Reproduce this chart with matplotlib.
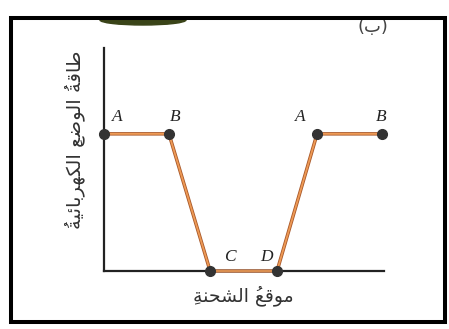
import matplotlib
matplotlib.use("Agg")
import matplotlib.pyplot as plt
from matplotlib.patches import Rectangle, Ellipse

# --- data ---
point_labels = ["A", "B", "C", "D", "A", "B"]
positions = [0.0, 2.32, 3.79, 6.18, 7.61, 9.93]
energy = [6.15, 6.15, 0.0, 0.0, 6.15, 6.15]

ylabel_text = "طاقةُ الوضعِ الكهربائيةُ"
xlabel_text = "موقعُ الشحنةِ"
panel_text = "(ب)"

# -----------------------------------
# small Arabic shaper (matplotlib has no bidi / shaping)
# -----------------------------------
# isolated, final, initial, medial
FORMS = {
    "ا": (0xFE8D, 0xFE8E, None, None),
    "ب": (0xFE8F, 0xFE90, 0xFE91, 0xFE92),
    "ة": (0xFE93, 0xFE94, None, None),
    "ح": (0xFEA1, 0xFEA2, 0xFEA3, 0xFEA4),
    "ر": (0xFEAD, 0xFEAE, None, None),
    "ش": (0xFEB5, 0xFEB6, 0xFEB7, 0xFEB8),
    "ض": (0xFEBD, 0xFEBE, 0xFEBF, 0xFEC0),
    "ط": (0xFEC1, 0xFEC2, 0xFEC3, 0xFEC4),
    "ع": (0xFEC9, 0xFECA, 0xFECB, 0xFECC),
    "ق": (0xFED5, 0xFED6, 0xFED7, 0xFED8),
    "ك": (0xFED9, 0xFEDA, 0xFEDB, 0xFEDC),
    "ل": (0xFEDD, 0xFEDE, 0xFEDF, 0xFEE0),
    "م": (0xFEE1, 0xFEE2, 0xFEE3, 0xFEE4),
    "ن": (0xFEE5, 0xFEE6, 0xFEE7, 0xFEE8),
    "ه": (0xFEE9, 0xFEEA, 0xFEEB, 0xFEEC),
    "و": (0xFEED, 0xFEEE, None, None),
    "ي": (0xFEF1, 0xFEF2, 0xFEF3, 0xFEF4),
    "ئ": (0xFE89, 0xFE8A, 0xFE8B, 0xFE8C),
}
MARKS = "\u064b\u064c\u064d\u064e\u064f\u0650\u0651\u0652"
MIRROR = {"(": ")", ")": "("}


def shape(text):
    # clusters = base letter + its marks
    clusters = []
    for ch in text:
        if ch in MARKS and clusters:
            clusters[-1][1].append(ch)
        else:
            clusters.append([ch, []])
    out = []
    for i, (ch, marks) in enumerate(clusters):
        if ch not in FORMS:
            out.append([MIRROR.get(ch, ch), marks])
            continue
        prev = clusters[i - 1][0] if i > 0 else None
        nxt = clusters[i + 1][0] if i + 1 < len(clusters) else None
        join_prev = prev in FORMS and FORMS[prev][2] is not None
        join_next = nxt in FORMS and FORMS[ch][2] is not None
        iso, fin, ini, med = FORMS[ch]
        if join_prev and join_next:
            code = med
        elif join_prev:
            code = fin
        elif join_next:
            code = ini
        else:
            code = iso
        out.append([chr(code), marks])
    # visual order: reverse everything (mark ends up just before its base)
    return "".join("".join(m) + c for c, m in reversed(out))


fig = plt.figure(figsize=(4.49, 3.29), dpi=100)
W, H = 449, 329

# axes placed to match the picture
ax = fig.add_axes([104 / W, (H - 271) / H, (384 - 104) / W, (271 - 48) / H])
ax.set_xlim(0, 10)
ax.set_ylim(0, 10)
ax.spines[["top", "right"]].set_visible(False)
for s in ["left", "bottom"]:
    ax.spines[s].set_linewidth(1.6)
    ax.spines[s].set_color("#222222")
ax.set_xticks([])
ax.set_yticks([])
ax.patch.set_alpha(0)

# the curve (dark edge + orange core)
ax.plot(positions, energy, color="#a8582a", lw=2.5, solid_capstyle="butt",
        zorder=2, clip_on=False)
ax.plot(positions, energy, color="#ee9a55", lw=1.3, solid_capstyle="butt",
        zorder=3, clip_on=False)
ax.plot(positions, energy, "o", color="#333333", ms=7, zorder=4, clip_on=False)

# point labels
offsets = [(13, 17), (6, 17), (20, 14), (-11, 14), (-17, 17), (-1, 17)]
for lab, x, y, (dx, dy) in zip(point_labels, positions, energy, offsets):
    ax.annotate(lab, (x, y), xytext=(dx, dy), textcoords="offset pixels",
                ha="center", va="center", fontsize=12.5, style="italic",
                family="Liberation Serif", color="#222222")

# axis titles
fig.text(75 / W, 1 - 140 / H, shape(ylabel_text), rotation=90,
         ha="center", va="center", fontsize=14, family="DejaVu Sans",
         color="#333333")
fig.text(243 / W, 1 - 296 / H, shape(xlabel_text), ha="center", va="center",
         fontsize=13.5, family="DejaVu Sans", color="#333333")

# panel letter, partly hidden by the frame
fig.text(373 / W, 1 - 27 / H, shape(panel_text), ha="center", va="center",
         fontsize=13, family="DejaVu Sans", color="#444444", zorder=5)

# scanner blob at the top
fig.patches.append(Ellipse((143 / W, 1 - 20 / H), 86 / W, 10 / H,
                           transform=fig.transFigure, color="#3a4418",
                           zorder=1))

# white strip above the frame, hides what sticks out
fig.patches.append(Rectangle((0, 1 - 18 / H), 1, 18 / H,
                             transform=fig.transFigure, color="white",
                             zorder=9))
# black frame
fig.patches.append(Rectangle((11 / W, 1 - 322 / H), 434 / W, 304 / H,
                             transform=fig.transFigure, fill=False,
                             lw=2.9, edgecolor="black", zorder=10))

fig.savefig("out.png", dpi=100, facecolor="white")
